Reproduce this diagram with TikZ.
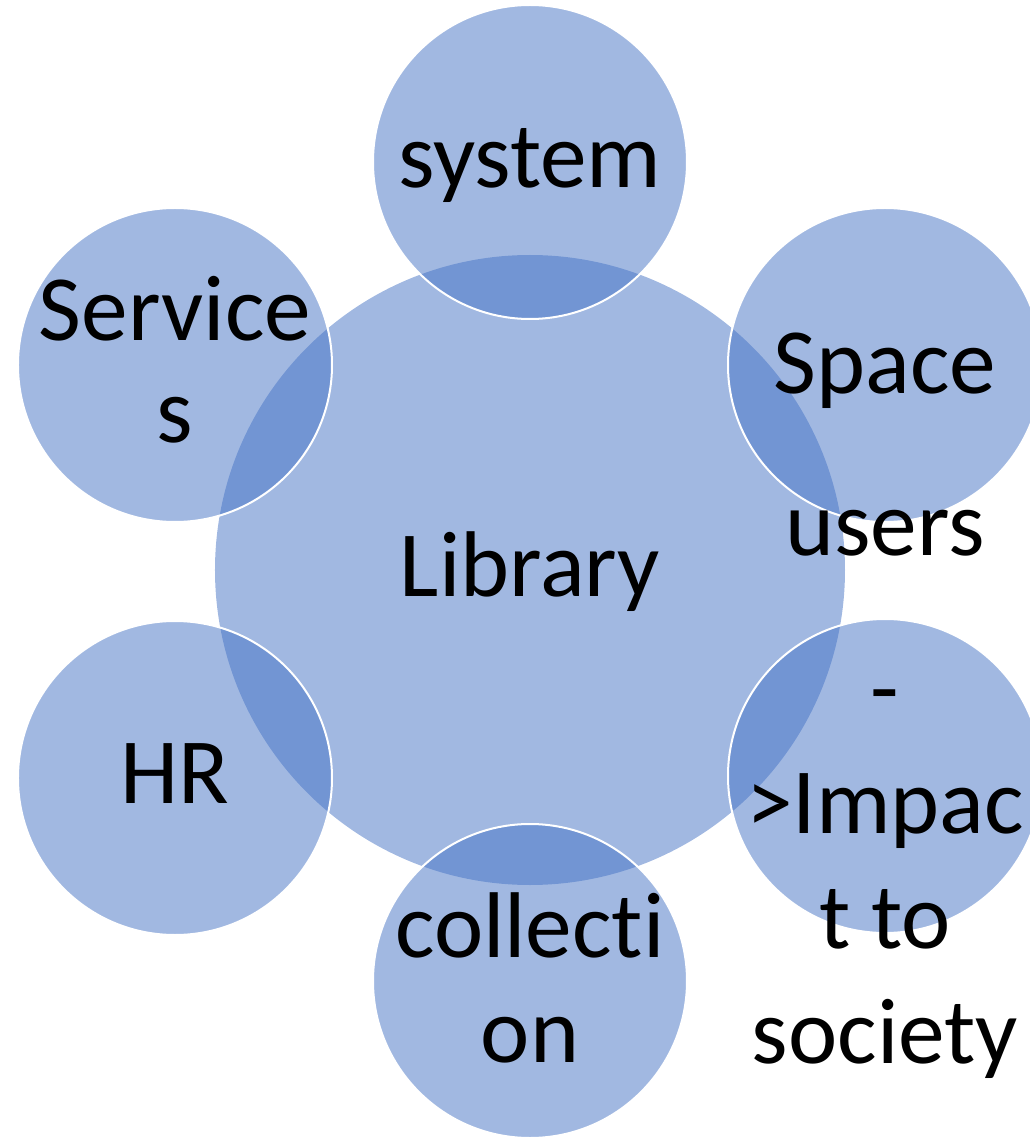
\documentclass[tikz,border=0pt]{standalone}
\usepackage{fontspec}
\setmainfont{Carlito}[Ligatures=NoCommon]
\usepackage{tikz}

\definecolor{petalblue}{HTML}{4472C4}
\tikzset{
  hub/.style={circle,fill=petalblue,fill opacity=0.5,inner sep=0pt,minimum size=472.5pt},
  leaf/.style={circle,fill=petalblue,fill opacity=0.5,draw=white,draw opacity=1,line width=1.5pt,inner sep=0pt,minimum size=235.5pt},
  word/.style={font=\fontsize{70}{86}\selectfont,align=center,anchor=base,text opacity=1}
}

\begin{document}
\begin{tikzpicture}[x=0.75pt,y=0.75pt]
  \useasboundingbox (-530,-569) rectangle (500,570);
  \clip (-530,-569) rectangle (500,570);

  \draw (0,0) node[hub] (lib) {};
    \draw (0,408) node[leaf] (sys) {};
    \draw (355,205) node[leaf] (spc) {};
    \draw (355,-206) node[leaf] (imp) {};
    \draw (0,-411) node[leaf] (col) {};
    \draw (-355,-208) node[leaf] (hr) {};
    \draw (-355,205) node[leaf] (srv) {};

  \draw (0,-26) node[word] (libtext) {Library};
    \draw (0,382) node[word] (systext) {system};
    \draw (355,15) node[word] (spctext) {Space\\[35.5pt]users};
    \draw (355,-493) node[word] (imptext) {-\\>Impac\\t to\\society};
    \draw (0,-492) node[word] (coltext) {collecti\\[-7.5pt]on};
    \draw (-355,-233) node[word] (hrtext) {HR};
    \draw (-355,127) node[word] (srvtext) {Service\\[-9pt]s};

\end{tikzpicture}
\end{document}
